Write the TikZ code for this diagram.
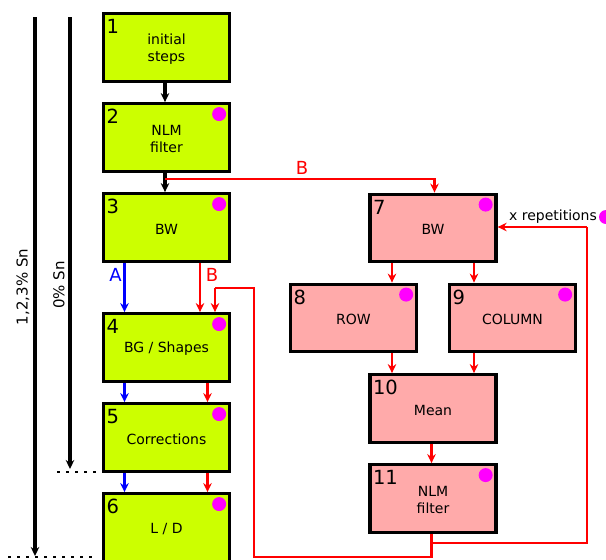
\documentclass[tikz,border=0pt]{standalone}
\usepackage{fontspec}
\setmainfont{DejaVu Sans}
\usetikzlibrary{arrows.meta,calc}
\definecolor{gfill}{HTML}{CCFF00}
\definecolor{pfill}{HTML}{FFAAAA}
\definecolor{rd}{HTML}{FF0000}
\definecolor{bl}{HTML}{0000FF}
\definecolor{mg}{HTML}{FF00FF}
\tikzset{
  gbox/.style={draw=black, line width=3.3pt, fill=gfill, minimum width=126pt, minimum height=67.5pt, inner sep=0pt},
  pbox/.style={draw=black, line width=3.3pt, fill=pfill, minimum width=126pt, minimum height=67.5pt, inner sep=0pt},
  numtxt/.style={anchor=base west, inner sep=0pt, font=\fontsize{19.5}{22}\selectfont},
  boxtxt/.style={align=center, inner sep=0pt, font=\fontsize{14}{17.5}\selectfont},
  tipk/.style={-{Stealth[length=9pt,width=8.5pt]}},
  blkarrow/.style={tipk, line width=3.5pt, draw=black},
  redarrow/.style={tipk, line width=2.8pt, draw=rd},
  bluearrow/.style={tipk, line width=2.8pt, draw=bl},
  redline/.style={line width=2.8pt, draw=rd},
  abtxt/.style={inner sep=0pt, font=\fontsize{18}{20}\selectfont},
  dotrow/.style={line width=2.5pt, dash pattern=on 2.5pt off 6.5pt},
  sidetxt/.style={inner sep=0pt, rotate=90, font=\fontsize{15}{18}\selectfont},
}
\newcommand\procbox[6]{%
  \node[#1] (#2) at (#3) {};
  \node[numtxt] (#2n) at ($(#2.north west)+(4.5,21.5)$) {#4};
  \node[boxtxt] (#2t) at ($(#2.center)+(0,1.5)$) {#5};
  \ifx#6y\fill[mg] ($(#2.north east)+(-12,12)$) circle (7);\fi
}
\begin{document}
\begin{tikzpicture}[x=1pt,y=-1pt]
\useasboundingbox (0,0) rectangle (606,560);
% green column
\procbox{gbox}{b1}{166.5,47.5}{1}{initial\\steps}{n}
\procbox{gbox}{b2}{166.5,137.5}{2}{NLM\\filter}{y}
\procbox{gbox}{b3}{166.5,227.5}{3}{BW}{y}
\procbox{gbox}{b4}{166.5,347.5}{4}{BG / Shapes}{y}
\procbox{gbox}{b5}{166.5,437.5}{5}{Corrections}{y}
\procbox{gbox}{b6}{166.5,527.5}{6}{L / D}{y}
% pink
\procbox{pbox}{b7}{433,228}{7}{BW}{y}
\procbox{pbox}{b8}{353.5,318}{8}{ROW}{y}
\procbox{pbox}{b9}{512.5,318}{9}{COLUMN}{y}
\procbox{pbox}{b10}{433,408.5}{10}{Mean}{n}
\procbox{pbox}{b11}{433,498.5}{11}{NLM\\filter}{y}
% x positions of vertical connectors
\coordinate (xk) at (165,0);
\coordinate (xa) at (124.5,0);
\coordinate (xb) at (200,0);
\coordinate (xc) at (207.5,0);
\coordinate (xd) at (215,0);
\coordinate (xe) at (392,0);
\coordinate (xf) at (474,0);
\coordinate (xg) at (431.5,0);
\coordinate (xh) at (434.5,0);
% black arrows
\draw[blkarrow] (b1.south -| xk) -- (b2.north -| xk);
\draw[blkarrow] (b2.south -| xk) -- (b3.north -| xk);
% B branch to 7
\coordinate (bsplit) at (165,179);
\draw[redarrow] (bsplit) -| (b7.north -| xh);
\node[abtxt, text=rd] (lb1) at (302,168) {B};
% A / B from 3 to 4
\draw[bluearrow] (b3.south -| xa) -- (b4.north -| xa);
\draw[redarrow] (b3.south -| xb) -- (b4.north -| xb);
\node[abtxt, text=bl] (la) at (115.5,275) {A};
\node[abtxt, text=rd] (lb2) at (212,275) {B};
% 4->5, 5->6
\draw[bluearrow] (b4.south -| xa) -- (b5.north -| xa);
\draw[redarrow] (b4.south -| xc) -- (b5.north -| xc);
\draw[bluearrow] (b5.south -| xa) -- (b6.north -| xa);
\draw[redarrow] (b5.south -| xc) -- (b6.north -| xc);
% pink flow
\draw[redarrow] (b7.south -| xe) -- (b8.north -| xe);
\draw[redarrow] (b7.south -| xf) -- (b9.north -| xf);
\draw[redarrow] (b8.south -| xe) -- (b10.north -| xe);
\draw[redarrow] (b9.south -| xf) -- (b10.north -| xf);
\draw[redarrow] (b10.south -| xg) -- (b11.north -| xg);
% loops
\coordinate (lp1) at (254,557);
\coordinate (lp2) at (254,288);
\coordinate (lp3) at (215,288);
\draw[redline] (b11.south -| xg) |- (lp1) -- (lp2) -- (lp3);
\draw[redarrow] (lp3) -- (b4.north -| xd);
\coordinate (lq0) at (431.5,543);
\coordinate (lq1) at (587,543);
\coordinate (lq2) at (587,227);
\draw[redline] (lq0) -- (lq1) -- (lq2);
\draw[redarrow] (lq2) -- (b7.east |- lq2);
\node[boxtxt] (xrep) at (553,216.5) {x repetitions};
\fill[mg] (606,217) circle (7);
% side arrows
\coordinate (s1a) at (35,17);
\coordinate (s1b) at (35,556);
\coordinate (s2a) at (70,17);
\coordinate (s2b) at (70,469);
\draw[blkarrow] (s1a) -- (s1b);
\draw[blkarrow] (s2a) -- (s2b);
\node[sidetxt] (t1) at (23,287) {1,2,3\% Sn};
\node[sidetxt] (t2) at (59,285) {0\% Sn};
\draw[dotrow] (57,472) -- (96,472);
\draw[dotrow] (8,557) -- (96,557);
\end{tikzpicture}
\end{document}
